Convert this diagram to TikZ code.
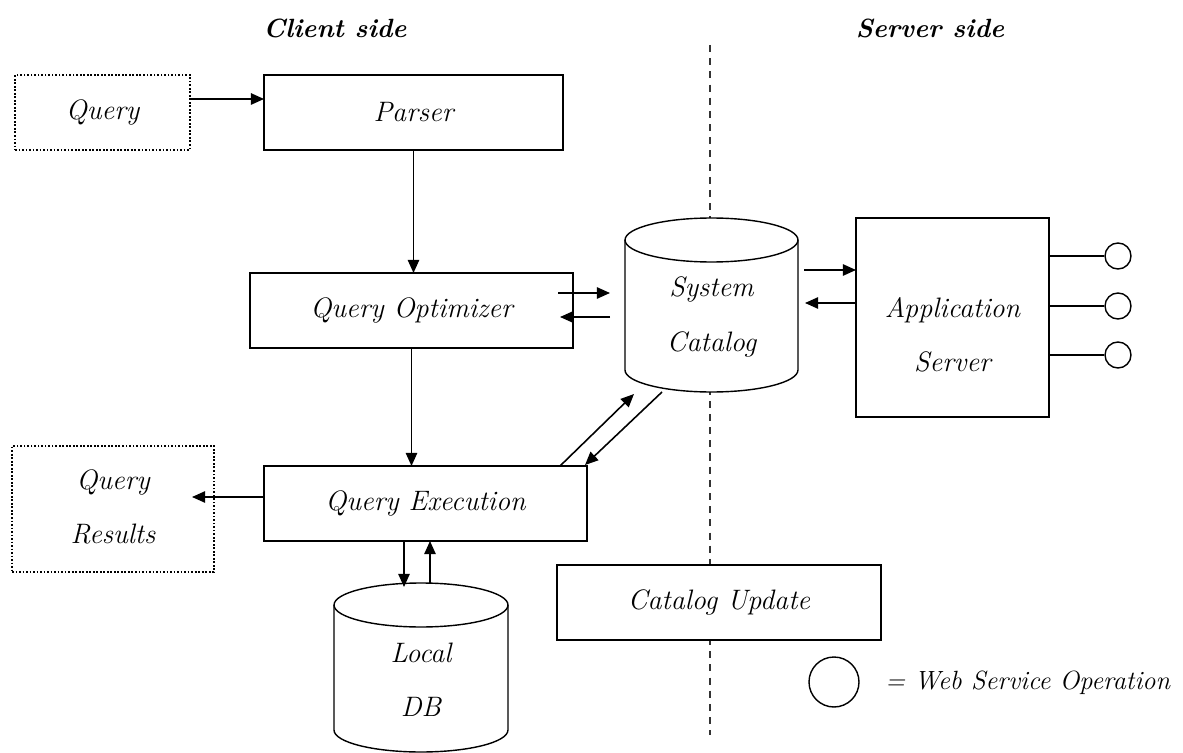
\documentclass[tikz,border=0pt]{standalone}
\usetikzlibrary{arrows.meta}
\newcommand\mylbl{\fontsize{16}{31}\selectfont\itshape}
\newcommand\mylegend{\fontsize{15}{18}\selectfont\itshape}
\newcommand\myttl{\fontsize{15}{18}\selectfont\bfseries\itshape}
\tikzset{
  box/.style={draw, line width=0.8pt, inner sep=0pt, outer sep=0pt, font=\mylbl, align=center, fill=white},
  dotbox/.style={box, dash pattern=on 1pt off 1pt},
  arr/.style={-{Triangle[length=7.5pt,width=6.5pt]}, line width=0.9pt},
  plain/.style={line width=0.8pt},
  cyl/.style={draw, line width=0.8pt, fill=white},
  lbl/.style={font=\mylbl, align=center, inner sep=0pt},
  ttl/.style={font=\myttl, inner sep=0pt},
  ws/.style={circle, draw, line width=0.8pt, inner sep=0pt, fill=white},
  divider/.style={line width=0.8pt, draw=black!80, dash pattern=on 4pt off 3.5pt}
}
\begin{document}
\begin{tikzpicture}[x=0.02cm,y=0.02cm]
\useasboundingbox (0,0) rectangle (1183,-753);
% titles
\node[ttl] (client) at (335,-28) {Client side};
\node[ttl] (server) at (930,-28) {Server side};
% divider
\coordinate (dtop) at (710,-45);
\coordinate (dbot) at (710,-735);
\draw[divider] (dtop) -- (dbot);
% boxes
\node[dotbox, minimum width=3.5cm, minimum height=1.5cm] (query) at (102.5,-112.5) {Query};
\node[box, minimum width=5.98cm, minimum height=1.5cm] (parser) at (413.5,-112.5) {Parser};
\node[box, minimum width=6.46cm, minimum height=1.5cm] (qo) at (411.5,-310.5) {Query Optimizer};
\node[box, minimum width=6.46cm, minimum height=1.5cm] (qe) at (425.5,-503.5) {Query Execution};
\node[dotbox, minimum width=4.04cm, minimum height=2.52cm] (qr) at (113,-509) {};
\node[lbl] (qrtxt) at (113,-507) {Query\\Results};
\node[box, minimum width=3.86cm, minimum height=3.98cm] (as) at (952.5,-317.5) {};
\node[lbl] (astxt) at (952.5,-335) {Application\\Server};
\node[box, minimum width=6.48cm, minimum height=1.5cm] (cu) at (719,-602.5) {Catalog Update};
% system catalog cylinder
\draw[cyl] (625,-240) -- (625,-370) arc[start angle=180,end angle=360,x radius=1.73cm,y radius=0.44cm] -- (798,-240);
\draw[cyl] (711.5,-240) ellipse [x radius=1.73cm, y radius=0.44cm];
\node[lbl] (sc) at (711.5,-317) {System\\Catalog};
% local DB cylinder
\draw[cyl] (334,-605) -- (334,-730) arc[start angle=180,end angle=360,x radius=1.74cm,y radius=0.44cm] -- (508,-605);
\draw[cyl] (421,-605) ellipse [x radius=1.74cm, y radius=0.44cm];
\node[lbl] (ldb) at (421,-680) {Local\\DB};
% anchor coordinates on cylinders
\coordinate (scl1) at (610,-293);
\coordinate (scl2) at (610,-317);
\coordinate (scr1) at (804,-270);
\coordinate (scr2) at (805,-303);
\coordinate (scb1) at (634,-394);
\coordinate (scb2) at (662,-392);
\coordinate (qer) at (585,-465);
\coordinate (qet) at (560,-466);
\coordinate (qo1) at (558,-293);
\coordinate (qo2) at (560,-317);
\coordinate (ldbt1) at (404,-587);
\coordinate (ldbt2) at (430,-583);
\coordinate (qrin) at (192,-497);
% connectors
\draw[arr] (query.east |- 0,-99) -- (parser.west |- 0,-99);
\draw[arr] (parser.south) -- (parser.south |- qo.north);
\draw[arr] (qo.south) -- (qo.south |- qe.north);
\draw[arr] (qo1) -- (scl1);
\draw[arr] (scl2) -- (qo2);
\draw[arr] (scr1) -- (as.west |- scr1);
\draw[arr] (as.west |- scr2) -- (scr2);
\draw[arr] (qet) -- (scb1);
\draw[arr] (scb2) -- (qer);
\draw[arr] (qe.west |- qrin) -- (qrin);
\draw[arr] (qe.south -| ldbt1) -- (ldbt1);
\draw[arr] (ldbt2) -- (qe.south -| ldbt2);
% web service operations
\node[ws, minimum size=0.52cm] (ws1) at (1118,-256) {};
\node[ws, minimum size=0.52cm] (ws2) at (1118,-306) {};
\node[ws, minimum size=0.52cm] (ws3) at (1118,-355) {};
\draw[plain] (as.east |- ws1) -- (ws1);
\draw[plain] (as.east |- ws2) -- (ws2);
\draw[plain] (as.east |- ws3) -- (ws3);
% legend
\node[ws, minimum size=1cm] (leg) at (834,-682) {};
\node[lbl, font=\mylegend, anchor=west] (legtxt) at (885,-683) {= Web Service Operation};
\end{tikzpicture}
\end{document}
